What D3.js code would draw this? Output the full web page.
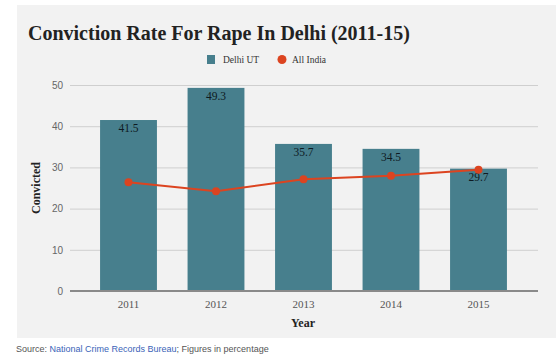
<!DOCTYPE html>
<html>
<head>
<meta charset="utf-8">
<script src="https://cdn.jsdelivr.net/npm/d3@7"></script>
<style>
  body { margin: 0; background: #fff; }
  svg { display: block; }
  .title { font-family: "Liberation Serif", serif; font-size: 20px; font-weight: bold; fill: #222; }
  .legend text { font-family: "Liberation Serif", serif; font-size: 9.5px; fill: #333; }
  .y.axis text { font-family: "Liberation Sans", Arial, sans-serif; font-size: 10px; fill: #666; }
  .x.axis text { font-family: "Liberation Serif", serif; font-size: 11px; fill: #555; }
  .label { font-family: "Liberation Serif", serif; font-size: 12px; font-weight: bold; fill: #222; }
  .val { font-family: "Liberation Serif", serif; font-size: 11.5px; fill: #0e1a22; }
  .source { font-family: "Liberation Sans", Arial, sans-serif; font-size: 9px; fill: #555; }
</style>
</head>
<body>
<svg width="556" height="364"></svg>
<script>
var years = ['2011', '2012', '2013', '2014', '2015'];
var delhiUT = [41.5, 49.3, 35.7, 34.5, 29.7];
var allIndia = [26.4, 24.2, 27.1, 28.0, 29.4];
var yTicks = [0, 10, 20, 30, 40, 50];

var svg = d3.select('svg');

// panel background
svg.append('rect')
    .attr('x', 17).attr('y', 5)
    .attr('width', 539).attr('height', 333)
    .attr('fill', '#f2f2f2');

var xScale = d3.scaleBand()
    .domain(years).range([84.75, 522.25])
    .paddingInner(0.35).paddingOuter(0.175);

var yScale = d3.scaleLinear()
    .domain([0, 50]).range([291, 85]);

// gridlines + y labels
svg.append('g').attr('class', 'y axis')
    .attr('transform', 'translate(70,0)')
    .call(d3.axisLeft(yScale).tickValues(yTicks).tickSize(-468).tickPadding(7))
    .call(function(g) {
        g.select('.domain').remove();
        g.selectAll('.tick line').attr('stroke', '#cfcfcf');
    });

// bars
svg.append('g').selectAll('rect')
    .data(years)
    .enter()
    .append('rect')
    .attr('x', function(d) { return xScale(d); })
    .attr('y', function(d, i) { return yScale(delhiUT[i]); })
    .attr('width', xScale.bandwidth())
    .attr('height', function(d, i) { return yScale(0) - yScale(delhiUT[i]); })
    .attr('fill', '#477f8d');

// bar values
svg.append('g').selectAll('text')
    .data(years)
    .enter()
    .append('text')
    .attr('class', 'val')
    .attr('text-anchor', 'middle')
    .attr('x', function(d) { return xScale(d) + xScale.bandwidth() / 2; })
    .attr('y', function(d, i) { return yScale(delhiUT[i]) + 12; })
    .text(function(d, i) { return delhiUT[i]; });

// zero axis line
svg.append('line')
    .attr('x1', 70).attr('x2', 538)
    .attr('y1', yScale(0)).attr('y2', yScale(0))
    .attr('stroke', '#8a8a8a').attr('stroke-width', 2);

// x labels
svg.append('g').attr('class', 'x axis')
    .attr('transform', 'translate(0,' + yScale(0) + ')')
    .call(d3.axisBottom(xScale).tickSize(0).tickPadding(9))
    .call(function(g) { g.select('.domain').remove(); });

// All India line
var line = d3.line()
    .x(function(d, i) { return xScale(years[i]) + xScale.bandwidth() / 2; })
    .y(function(d) { return yScale(d); });

svg.append('path')
    .datum(allIndia)
    .attr('d', line)
    .attr('fill', 'none')
    .attr('stroke', '#dc4420')
    .attr('stroke-width', 2);

svg.append('g').selectAll('circle')
    .data(allIndia)
    .enter()
    .append('circle')
    .attr('cx', function(d, i) { return xScale(years[i]) + xScale.bandwidth() / 2; })
    .attr('cy', function(d) { return yScale(d); })
    .attr('r', 4)
    .attr('fill', '#dc4420');

// title
svg.append('text')
    .attr('class', 'title')
    .attr('x', 28).attr('y', 40)
    .text('Conviction Rate For Rape In Delhi (2011-15)');

// legend
var legend = svg.append('g').attr('class', 'legend');
legend.append('rect')
    .attr('x', 207).attr('y', 55).attr('width', 8).attr('height', 9)
    .attr('fill', '#477f8d');
legend.append('text').attr('x', 223).attr('y', 63).text('Delhi UT');
legend.append('circle')
    .attr('cx', 282).attr('cy', 59.5).attr('r', 4.5)
    .attr('fill', '#dc4420');
legend.append('text').attr('x', 292).attr('y', 63).text('All India');

// axis titles
svg.append('text')
    .attr('class', 'label')
    .attr('text-anchor', 'middle')
    .attr('transform', 'translate(40,188) rotate(-90)')
    .text('Convicted');

svg.append('text')
    .attr('class', 'label')
    .attr('text-anchor', 'middle')
    .attr('x', 303).attr('y', 327)
    .text('Year');

// source
var src = svg.append('text')
    .attr('class', 'source')
    .attr('x', 16).attr('y', 352);
src.append('tspan').text('Source: ');
src.append('tspan').attr('fill', '#3a63b8').text('National Crime Records Bureau');
src.append('tspan').text('; Figures in percentage');
</script>
</body>
</html>
